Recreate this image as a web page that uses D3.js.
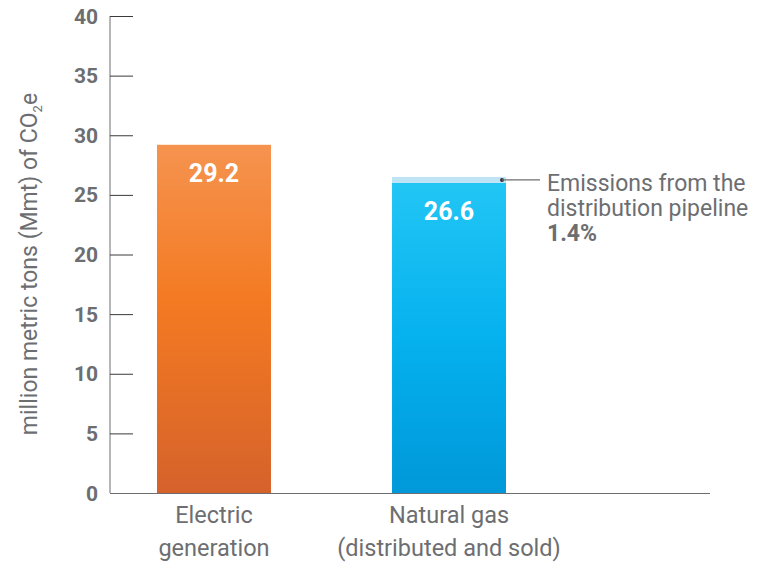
<!DOCTYPE html>
<html>
<head>
<meta charset="utf-8">
<script src="https://cdn.jsdelivr.net/npm/d3@7"></script>
<style>
  body { margin: 0; background: #fff; }
  text { font-family: Roboto, "Noto Sans", sans-serif; }
</style>
</head>
<body>
<script>
var categories = ["Electric generation", "Natural gas (distributed and sold)"];
var catLines = [["Electric", "generation"], ["Natural gas", "(distributed and sold)"]];
var mainValues = [29.2, 26.0];
var pipelineValues = [0, 0.5];
var barLabels = ["29.2", "26.6"];
var yTicks = [0, 5, 10, 15, 20, 25, 30, 35, 40];

var width = 762, height = 565;
var grey = "#6d6e71";

var svg = d3.select("body").append("svg")
   .attr("width", width)
   .attr("height", height);

var defs = svg.append("defs");
var gOrange = defs.append("linearGradient").attr("id", "gOrange")
   .attr("x1", 0).attr("x2", 0).attr("y1", 0).attr("y2", 1);
gOrange.append("stop").attr("offset", "0%").attr("stop-color", "#f5934f");
gOrange.append("stop").attr("offset", "45%").attr("stop-color", "#f47a22");
gOrange.append("stop").attr("offset", "100%").attr("stop-color", "#d5622b");
var gBlue = defs.append("linearGradient").attr("id", "gBlue")
   .attr("x1", 0).attr("x2", 0).attr("y1", 0).attr("y2", 1);
gBlue.append("stop").attr("offset", "0%").attr("stop-color", "#22c6f5");
gBlue.append("stop").attr("offset", "50%").attr("stop-color", "#05b1ee");
gBlue.append("stop").attr("offset", "100%").attr("stop-color", "#0098d9");
var fills = ["url(#gOrange)", "url(#gBlue)"];

var y = d3.scaleLinear().domain([0, 40]).range([493, 16]);
var x = d3.scaleBand().domain(categories).range([157, 506]).paddingInner(0.515).paddingOuter(0);

// y axis
var yAxis = svg.append("g")
   .attr("transform", "translate(110,0)")
   .call(d3.axisRight(y).tickValues(yTicks).tickSize(23).tickFormat(""));
yAxis.select(".domain").attr("stroke", grey).attr("d", "M0,16V493");
yAxis.selectAll(".tick line").attr("stroke", "#3a3a3a").attr("stroke-width", 1);

svg.append("g").selectAll("text")
   .data(yTicks)
   .enter().append("text")
   .attr("x", 98)
   .attr("y", function (d) { return y(d) + 7.5; })
   .attr("text-anchor", "end")
   .attr("font-size", 21)
   .attr("font-weight", "bold")
   .attr("fill", grey)
   .text(function (d) { return d; });

// bars
svg.append("g").selectAll("rect")
   .data(categories)
   .enter().append("rect")
   .attr("x", function (d) { return x(d); })
   .attr("width", x.bandwidth())
   .attr("y", function (d, i) { return y(mainValues[i]); })
   .attr("height", function (d, i) { return y(0) - y(mainValues[i]); })
   .attr("fill", function (d, i) { return fills[i]; });

// pipeline portion
svg.append("g").selectAll("rect")
   .data(categories)
   .enter().append("rect")
   .attr("x", function (d) { return x(d); })
   .attr("width", x.bandwidth())
   .attr("y", function (d, i) { return y(mainValues[i] + pipelineValues[i]); })
   .attr("height", function (d, i) { return y(mainValues[i]) - y(mainValues[i] + pipelineValues[i]); })
   .attr("fill", "#bee3f5");

// value labels
svg.append("g").selectAll("text")
   .data(categories)
   .enter().append("text")
   .attr("x", function (d) { return x(d) + x.bandwidth() / 2; })
   .attr("y", function (d, i) { return y(mainValues[i]) + 37; })
   .attr("text-anchor", "middle")
   .attr("font-size", 25)
   .attr("font-weight", "bold")
   .attr("fill", "#fff")
   .text(function (d, i) { return barLabels[i]; });

// x axis
svg.append("line")
   .attr("x1", 110).attr("x2", 710)
   .attr("y1", y(0) + 0.5).attr("y2", y(0) + 0.5)
   .attr("stroke", grey).attr("stroke-width", 1);

var xl = svg.append("g").selectAll("text")
   .data(categories)
   .enter().append("text")
   .attr("text-anchor", "middle")
   .attr("font-size", 23.5)
   .attr("fill", grey);
xl.each(function (d, i) {
   var cx = x(d) + x.bandwidth() / 2;
   d3.select(this).selectAll("tspan")
      .data(catLines[i])
      .enter().append("tspan")
      .attr("x", cx)
      .attr("y", function (t, j) { return 523 + j * 33; })
      .text(function (t) { return t; });
});

// y title
var yt = svg.append("text")
   .attr("transform", "translate(37,264) rotate(-90)")
   .attr("text-anchor", "middle")
   .attr("font-size", 23)
   .attr("fill", grey);
yt.append("tspan").text("million metric tons (Mmt) of CO");
yt.append("tspan").attr("font-size", 13).attr("dy", 5).text("2");
yt.append("tspan").attr("dy", -5).text("e");

// annotation
var gas = categories[1];
var ay = y(mainValues[1] + pipelineValues[1] / 2);
svg.append("circle")
   .attr("cx", x(gas) + x.bandwidth() - 4)
   .attr("cy", ay)
   .attr("r", 2)
   .attr("fill", "#333");
svg.append("line")
   .attr("x1", x(gas) + x.bandwidth() - 4).attr("x2", 540)
   .attr("y1", ay).attr("y2", ay)
   .attr("stroke", grey).attr("stroke-width", 1.2);
var ann = svg.append("text")
   .attr("font-size", 23)
   .attr("fill", grey);
ann.append("tspan").attr("x", 547).attr("y", 191).text("Emissions from the");
ann.append("tspan").attr("x", 547).attr("y", 216).text("distribution pipeline");
ann.append("tspan").attr("x", 547).attr("y", 241).attr("font-weight", "bold").text("1.4%");
</script>
</body>
</html>
